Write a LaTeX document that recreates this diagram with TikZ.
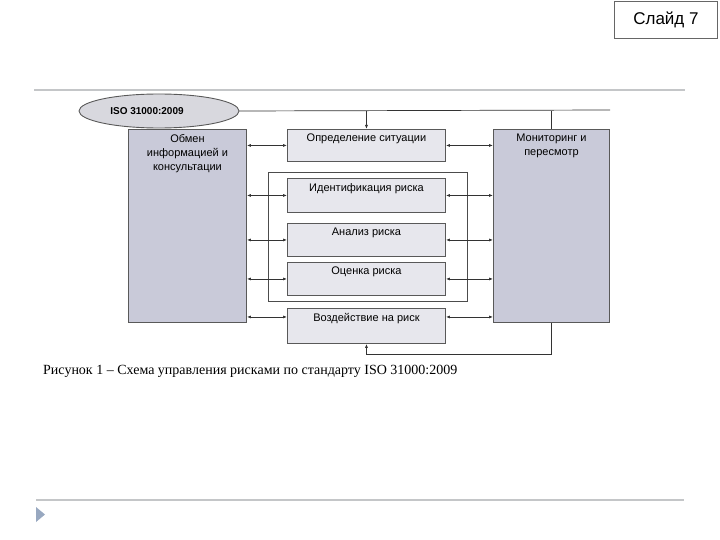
\documentclass[tikz,border=0pt]{standalone}
\usepackage{fontspec}
\setmainfont{Liberation Serif}
\setsansfont{Liberation Sans}
\usetikzlibrary{shapes.geometric,arrows.meta}

\definecolor{bigfill}{HTML}{C9CAD9}
\definecolor{smallfill}{HTML}{E7E7ED}
\definecolor{isofill}{HTML}{D8D8DE}
\definecolor{rulegray}{HTML}{C4C6C8}
\definecolor{tricol}{HTML}{98A8C0}

\tikzset{
  bigbox/.style={draw=black!65, line width=.9pt, fill=bigfill, anchor=north west, inner sep=0pt},
  smallbox/.style={draw=black!65, line width=.9pt, fill=smallfill, anchor=north west, inner sep=0pt, minimum width=158pt},
  frame/.style={draw=black!70, line width=.8pt, anchor=north west, inner sep=0pt},
  boxtext/.style={anchor=north, yshift=-5pt, align=center, inner sep=0pt, font=\sffamily\fontsize{11}{14}\selectfont},
  isotext/.style={inner sep=0pt, font=\sffamily\bfseries\fontsize{10}{12}\selectfont},
  conn/.style={draw=black!80, line width=.7pt},
  dbl/.style={conn, {Latex[length=4pt,width=3pt]}-{Latex[length=4pt,width=3pt]}},
  arr/.style={conn, -{Latex[length=4pt,width=3pt]}},
  rule/.style={draw=rulegray, line width=1.5pt}
}

\begin{document}
\begin{tikzpicture}[x=1pt,y=-1pt]
  \useasboundingbox (0,0) rectangle (720,540);
  \draw[rule] (34,90) -- (685,90);
  \draw[rule] (36,500) -- (684,500);
  \fill[tricol] (36,507) -- (45,514.5) -- (36,522) -- cycle;
  \node[draw=black!60, line width=.9pt, fill=white, anchor=north west, minimum width=103pt, minimum height=37pt,
        font=\sffamily\fontsize{17}{19}\selectfont] (slide) at (614,1) {Слайд 7};

  \node[frame, minimum width=199pt, minimum height=129pt] (etap) at (268,172) {};
  \node[bigbox, minimum width=118pt, minimum height=193pt,
        label={[boxtext]north:Обмен\\информацией и\\консультации}] (obmen) at (128,129) {};
  \node[bigbox, minimum width=116pt, minimum height=193pt,
        label={[boxtext]north:Мониторинг и\\пересмотр}] (monitor) at (493,129) {};
  \node[smallbox, minimum height=32pt, label={[boxtext]north:Определение ситуации}] (opred) at (287,129) {};
  \node[smallbox, minimum height=34pt, label={[boxtext]north:Идентификация риска}] (ident) at (287,178) {};
  \node[smallbox, minimum height=33pt, label={[boxtext]north:Анализ риска}] (analiz) at (287,223) {};
  \node[smallbox, minimum height=33pt, label={[boxtext]north:Оценка риска}] (ocenka) at (287,262) {};
  \node[smallbox, minimum height=35pt, label={[boxtext]north:Воздействие на риск}] (vozd) at (287,308) {};
  \node[ellipse, draw=black!65, line width=.9pt, fill=isofill, minimum width=160pt, minimum height=34pt,
        label={[isotext,xshift=-12pt]center:ISO 31000:2009}] (iso) at (159,111) {};

  \coordinate (topend) at (610,110);
  \coordinate (vozdL) at ([yshift=9pt]vozd.west);
  \coordinate (vozdR) at ([yshift=9pt]vozd.east);
  \draw[conn] (iso.east) -- (topend);
  \draw[arr] (iso.east -| opred.north) -- (opred.north);
  \draw[conn] (monitor.north) -- (monitor.north |- iso.east);
  \foreach \b in {opred,ident,analiz,ocenka} {
    \draw[dbl] (obmen.east |- \b.west) -- (\b.west);
    \draw[dbl] (\b.east) -- (monitor.west |- \b.east);
  }
  \draw[dbl] (obmen.east |- vozdL) -- (vozdL);
  \draw[dbl] (vozdR) -- (monitor.west |- vozdR);
  \draw[arr] (monitor.south) -- ++(0,31) -| (vozd.south);

  \node[anchor=base west, inner sep=0pt, font=\fontsize{14}{16}\selectfont] (caption) at (43,374)
    {Рисунок 1 – Схема управления рисками по стандарту ISO 31000:2009};
\end{tikzpicture}
\end{document}
